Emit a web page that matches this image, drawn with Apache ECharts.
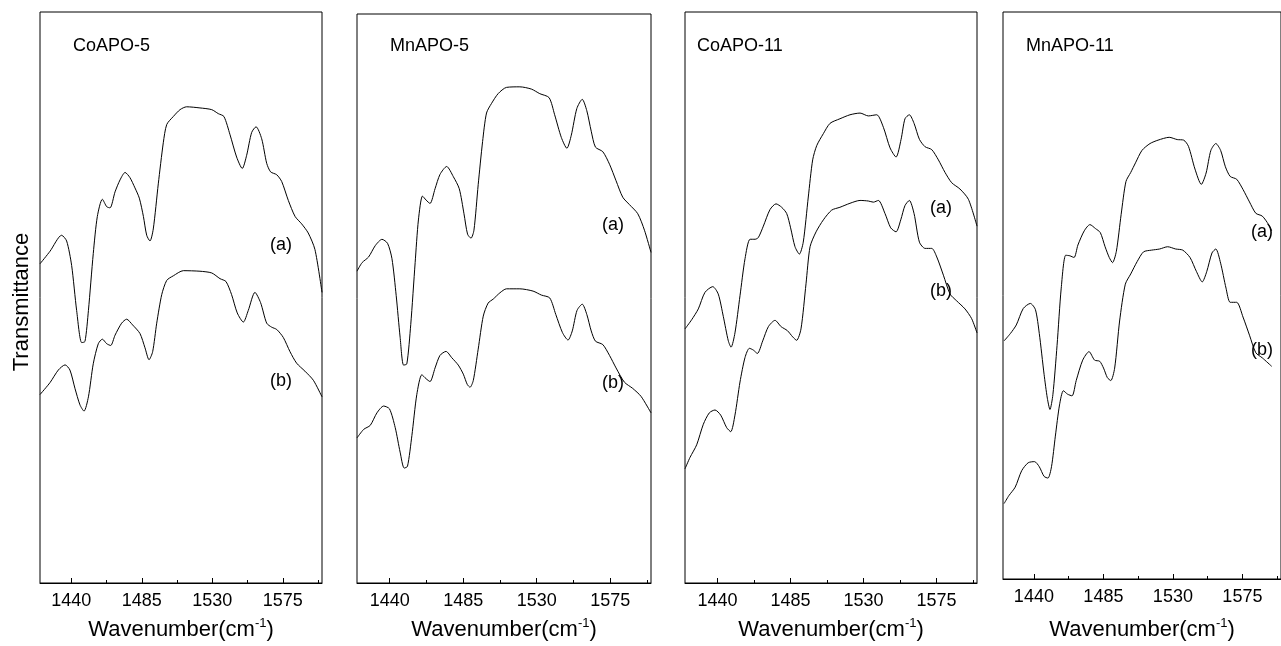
<!DOCTYPE html>
<html>
<head>
<meta charset="utf-8">
<title>FT-IR spectra of adsorbed pyridine</title>
<script src="https://cdn.jsdelivr.net/npm/echarts@6/dist/echarts.min.js"></script>
<style>
  html, body { margin: 0; padding: 0; background: #fff; }
  #chart { width: 1281px; height: 646px; }
</style>
</head>
<body>
<div id="chart"></div>
<script>
// Wavenumber axis (cm-1)
const wnMin = 1420;
const wnMax = 1600;
const majorTicks = [1440, 1485, 1530, 1575];
const minorTicks = [1462.5, 1507.5, 1552.5, 1597.5];

const panelNames = ['CoAPO-5', 'MnAPO-5', 'CoAPO-11', 'MnAPO-11'];
const curveLabels = ['(a)', '(b)'];

// Transmittance (arbitrary units, 0-100 per panel) as [wavenumber, T] pairs
const coapo5A = [[1420,55.9],[1426.4,58.1],[1433.8,60.9],[1437,59.9],[1440.2,55.6],[1443.4,47.7],[1446.6,42.1],[1448.7,42.3],[1450.9,47.7],[1454,57.7],[1456.6,64.2],[1459.8,67.2],[1462.6,65.9],[1464.7,65.7],[1467.9,68.5],[1471.1,70.6],[1474.3,71.9],[1477.4,71.0],[1480.6,69.2],[1483.4,67.4],[1486,64.2],[1488.1,60.9],[1490.2,59.9],[1492.3,62.0],[1495.5,69.9],[1498.7,77.1],[1500.9,80.3],[1505.1,81.7],[1509.4,82.9],[1513.6,83.4],[1522.1,83.2],[1529.6,82.9],[1533.8,82.2],[1537.4,81.7],[1541.3,78.5],[1545.5,74.6],[1549.1,72.6],[1551.9,74.9],[1555.1,78.9],[1557.9,79.9],[1561.5,77.8],[1564.7,73.5],[1567.2,72.0],[1571.1,71.5],[1574.3,70.3],[1578.5,67.0],[1582.8,64.2],[1587,62.9],[1591.2,61.3],[1595.5,58.4],[1600,50.9]];
const coapo5B = [[1420,33.0],[1426.4,35.1],[1431.7,37.3],[1436,38.2],[1439.1,37.3],[1442.3,34.1],[1445.5,31.2],[1448.1,30.1],[1450.9,32.6],[1454,38.4],[1457.2,41.9],[1459.8,42.7],[1462.6,41.9],[1465.1,41.6],[1467.9,43.4],[1472.1,45.5],[1475.3,46.2],[1479.1,45.2],[1483.8,43.7],[1487,41.2],[1489.6,39.1],[1491.9,40.5],[1494.5,45.5],[1497.7,50.5],[1500.9,53.0],[1505.1,53.8],[1511.5,54.7],[1522.1,54.6],[1529.6,54.3],[1534.9,53.3],[1538.7,52.8],[1542.3,50.5],[1545.9,47.3],[1549.8,45.7],[1552.9,47.7],[1557.2,50.9],[1560.8,49.1],[1564.7,45.5],[1567.9,44.8],[1571.1,44.4],[1575.3,43.0],[1579.6,40.5],[1583.8,38.5],[1589.1,37.1],[1594.5,35.5],[1600,32.6]];

const mnapo5A = [[1420,54.8],[1423.1,56.3],[1427.1,57.3],[1431.2,59.3],[1435.3,60.4],[1438.7,59.7],[1441.4,57.0],[1444,50.5],[1446.4,43.2],[1448.5,38.3],[1450.5,38.5],[1452.9,45.4],[1455.6,56.3],[1457.6,63.8],[1460.1,68.0],[1462.3,67.3],[1464.7,66.7],[1467.8,69.3],[1470.8,71.8],[1474.9,73.2],[1479,71.4],[1482.6,69.3],[1485.5,64.9],[1487.7,61.3],[1489.8,60.6],[1491.6,62.0],[1494.2,70.0],[1496.9,77.6],[1499.3,82.6],[1502.4,84.3],[1506.4,86.0],[1511.5,87.1],[1519.7,87.2],[1526.8,86.8],[1531.9,86.0],[1537.6,85.3],[1541,82.3],[1545.1,78.3],[1548.5,76.4],[1551.2,78.7],[1554.6,83.4],[1557.9,85.0],[1560.7,83.0],[1563.4,79.4],[1566,76.6],[1570.5,75.8],[1574.6,73.6],[1578.6,70.7],[1582.7,67.8],[1586.8,66.5],[1591.9,64.9],[1596,62.0],[1600,58.1]];
const mnapo5B = [[1420,25.5],[1424.1,27.0],[1428.1,27.7],[1432.2,29.9],[1436.3,31.1],[1439.9,30.6],[1443.4,27.3],[1446.4,23.0],[1448.9,20.2],[1450.9,20.5],[1453.6,25.9],[1456.6,33.1],[1459.7,36.6],[1462.3,35.9],[1464.7,35.4],[1467.8,37.8],[1470.8,40.0],[1474.5,40.7],[1478,39.6],[1482,38.3],[1485.1,36.7],[1487.5,34.9],[1489.2,34.4],[1491.2,35.6],[1494.2,41.1],[1497.3,46.9],[1500.3,49.2],[1503.4,49.9],[1507.5,51.0],[1511.5,51.7],[1519.7,51.7],[1527.8,51.3],[1532.9,50.6],[1538,50.1],[1541.7,47.2],[1545.8,44.0],[1549.2,42.7],[1551.8,44.3],[1554.7,47.9],[1557.9,49.0],[1560.7,47.2],[1563.4,44.3],[1566,42.5],[1570.5,41.9],[1574.6,40.0],[1578.6,37.8],[1583.7,35.3],[1588.8,34.2],[1593.9,32.8],[1600,29.9]];

const coapo11A = [[1420,44.5],[1424.1,46.1],[1428.2,48.0],[1432.3,50.9],[1437.1,51.9],[1440.5,50.6],[1443.6,46.7],[1446.7,42.4],[1448.4,41.3],[1450.8,43.8],[1453.9,50.3],[1457,56.8],[1460.1,60.2],[1463.2,60.2],[1465.2,60.5],[1468.3,62.5],[1472.4,65.4],[1476.1,66.4],[1479.6,65.8],[1482.7,64.7],[1485.1,62.2],[1487.8,58.9],[1490.5,57.6],[1492.9,59.7],[1496,67.6],[1498.7,74.1],[1501.2,76.6],[1505.3,78.7],[1509.4,80.5],[1515.5,81.3],[1521.7,82.0],[1527.9,82.3],[1533,81.8],[1538.2,82.0],[1542.3,79.8],[1546.4,76.2],[1550.1,74.6],[1553.2,77.7],[1555.6,81.3],[1558.3,82.0],[1561.2,80.5],[1564.5,77.7],[1568,76.4],[1572.1,75.9],[1576.2,74.1],[1580.3,71.9],[1584.4,70.1],[1589.5,69.0],[1594.7,67.2],[1600,62.5]];
const coapo11B = [[1420,20.0],[1423.1,22.0],[1427.2,24.2],[1431.3,27.8],[1435,29.8],[1438.5,30.3],[1442,29.4],[1445.7,27.2],[1448.2,26.5],[1450.8,29.4],[1453.9,35.2],[1457,39.5],[1459.7,41.1],[1462.1,40.8],[1464.6,40.2],[1467.9,42.4],[1471.4,44.9],[1475.5,46.0],[1479.2,44.9],[1483.1,44.2],[1486.4,43.1],[1488.8,42.5],[1491.5,44.5],[1494.6,52.4],[1497.1,58.9],[1500.8,61.5],[1505.3,63.6],[1510.4,65.3],[1515.5,65.8],[1521.7,66.5],[1527.9,67.0],[1533,66.9],[1536.1,66.7],[1539.2,67.0],[1543.3,64.7],[1546.8,62.2],[1550.1,61.5],[1553,63.6],[1555.6,66.1],[1558.3,67.0],[1561.2,64.7],[1564.5,59.7],[1568,58.6],[1572.1,58.6],[1575.2,57.1],[1579.3,53.9],[1583.4,50.6],[1587.5,49.4],[1592.6,48.0],[1596.7,46.3],[1600,43.8]];

const mnapo11A = [[1420.7,42.0],[1424.8,43.3],[1428.6,44.8],[1433.1,47.7],[1437.7,48.6],[1441,47.5],[1443.5,43.3],[1446.6,36.1],[1448.7,31.9],[1450.4,29.9],[1452.3,32.5],[1455,41.2],[1457.7,51.3],[1460.6,57.1],[1463.3,57.0],[1466,56.7],[1468.5,58.9],[1472.6,61.4],[1476.3,62.5],[1479.9,61.8],[1483,61.1],[1486.1,58.6],[1488.8,56.7],[1490.9,55.8],[1493.4,57.8],[1496.5,64.3],[1499.6,70.1],[1502.7,71.7],[1505.8,73.4],[1510,75.6],[1515.2,76.8],[1520.4,77.4],[1527.6,77.9],[1532.8,77.5],[1537,77.4],[1540.1,76.3],[1544.3,72.3],[1548.4,69.6],[1551.5,71.6],[1554.6,75.6],[1557.8,76.8],[1560.9,75.6],[1564,72.7],[1567.1,71.0],[1571.3,70.5],[1575.4,68.7],[1579.6,66.5],[1583.7,64.5],[1587.9,64.0],[1592,62.5],[1594,61.4]];
const mnapo11B = [[1420.7,13.3],[1423.8,14.7],[1427.9,16.2],[1432.1,19.1],[1436.3,20.5],[1440.4,20.7],[1443.5,19.8],[1446.6,18.1],[1449.1,17.8],[1451.4,19.8],[1453.9,25.2],[1456.6,30.7],[1459.1,33.2],[1461.8,32.6],[1464.7,32.3],[1467.4,35.0],[1471.6,38.6],[1475.7,40.1],[1479.3,38.6],[1482.6,38.4],[1485.1,37.2],[1487.6,35.5],[1489.8,35.0],[1492.3,37.2],[1495.5,45.5],[1499.2,52.0],[1502.7,53.8],[1506.9,56.0],[1511,57.7],[1516.2,58.0],[1521.4,58.2],[1526.6,58.6],[1531.8,58.2],[1536.4,58.0],[1541.1,56.7],[1545.3,54.2],[1549,52.4],[1551.9,54.2],[1555.3,57.5],[1557.8,58.2],[1560.9,55.7],[1564.4,51.3],[1567.1,48.8],[1571.3,48.8],[1575.4,46.2],[1579.6,43.0],[1583.7,39.9],[1587.9,39.0],[1594,37.5]];

const spectra = [
  [coapo5A, coapo5B],
  [mnapo5A, mnapo5B],
  [coapo11A, coapo11B],
  [mnapo11A, mnapo11B]
];

// Layout of the four framed panels (pixels)
const panels = [
  { left: 40,   top: 12, width: 282, height: 575, nameGap: 34, titleX: 73,   labelX: 270,  labelY: [245, 381] },
  { left: 357,  top: 14, width: 294, height: 570, nameGap: 34, titleX: 390,  labelX: 602,  labelY: [225, 383] },
  { left: 685,  top: 12, width: 292, height: 572, nameGap: 34, titleX: 697,  labelX: 930,  labelY: [208, 291] },
  { left: 1003, top: 12, width: 288, height: 568, nameGap: 38, titleX: 1026, labelX: 1251, labelY: [232, 350] }
];

const FONT = '"Liberation Sans", Arial, Helvetica, sans-serif';
const chart = echarts.init(document.getElementById('chart'), null, { renderer: 'canvas' });

const grid = [], xAxis = [], yAxis = [], series = [], graphic = [];

panels.forEach((p, i) => {
  grid.push({
    left: p.left, top: p.top, width: p.width, height: p.height,
    show: true, borderColor: '#000', borderWidth: 1, backgroundColor: 'transparent'
  });
  // major ticks, labels and axis title
  xAxis.push({
    type: 'value', gridIndex: i, position: 'bottom', min: wnMin, max: wnMax,
    axisLine: { show: true, lineStyle: { color: '#000', width: 1 } },
    axisTick: { show: true, inside: true, length: 5, customValues: majorTicks, lineStyle: { color: '#000' } },
    axisLabel: {
      show: true, customValues: majorTicks, margin: 9, color: '#000', fontSize: 18, fontFamily: FONT,
      formatter: (v) => String(v)
    },
    splitLine: { show: false },
    name: '{n|Wavenumber(cm}{s|-1}{n|)}',
    nameLocation: 'middle', nameGap: p.nameGap,
    nameTextStyle: {
      rich: {
        n: { fontSize: 22, lineHeight: 26, color: '#000', fontFamily: FONT },
        s: { fontSize: 13, lineHeight: 13, verticalAlign: 'top', color: '#000', fontFamily: FONT }
      }
    }
  });
  // minor ticks on the same bottom edge
  xAxis.push({
    type: 'value', gridIndex: i, position: 'bottom', min: wnMin, max: wnMax,
    axisLine: { show: false },
    axisTick: { show: true, inside: true, length: 3, customValues: minorTicks, lineStyle: { color: '#000' } },
    axisLabel: { show: false },
    splitLine: { show: false }
  });
  yAxis.push({
    type: 'value', gridIndex: i, min: 0, max: 100,
    show: false
  });
  spectra[i].forEach((curve) => {
    series.push({
      type: 'line', xAxisIndex: i * 2, yAxisIndex: i,
      data: curve, showSymbol: false, smooth: 0.25,
      lineStyle: { color: '#000', width: 1 },
      silent: true, clip: true
    });
  });
  graphic.push({
    type: 'text', x: p.titleX, y: 46,
    style: { text: panelNames[i], fill: '#000', font: '18px ' + FONT, textAlign: 'left', textVerticalAlign: 'middle' }
  });
  curveLabels.forEach((lab, k) => {
    graphic.push({
      type: 'text', x: p.labelX, y: p.labelY[k],
      style: { text: lab, fill: '#000', font: '18px ' + FONT, textAlign: 'left', textVerticalAlign: 'middle' }
    });
  });
});

graphic.push({
  type: 'text', x: 22, y: 302, rotation: Math.PI / 2,
  style: { text: 'Transmittance', fill: '#000', font: '22px ' + FONT, textAlign: 'center', textVerticalAlign: 'middle' }
});

chart.setOption({
  animation: false,
  backgroundColor: '#fff',
  grid, xAxis, yAxis, series, graphic
});
</script>
</body>
</html>
